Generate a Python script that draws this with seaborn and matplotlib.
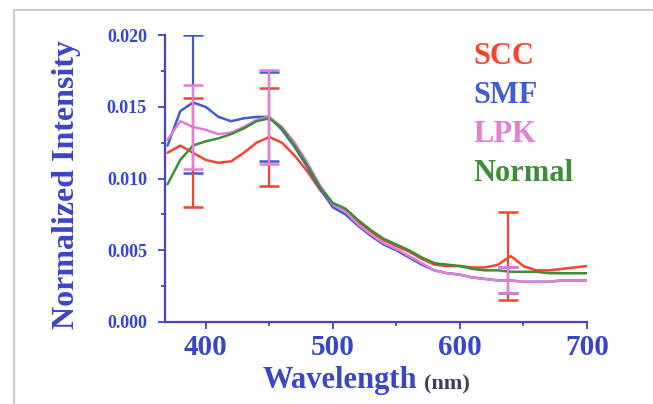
import numpy as np
import pandas as pd
import seaborn as sns
import matplotlib
matplotlib.use("Agg")
import matplotlib.pyplot as plt
from matplotlib.ticker import MultipleLocator, FormatStrFormatter
from matplotlib.lines import Line2D

# wavelength grid (nm)
wavelength = [370, 380, 390, 400, 410, 420, 430, 440, 450, 460, 470, 480, 490,
              500, 510, 520, 530, 540, 550, 560, 570, 580, 590, 600, 610, 620,
              630, 640, 650, 660, 670, 680, 690, 700]

scc = [0.0118, 0.0123, 0.0118, 0.0113, 0.0111, 0.0112, 0.0118, 0.0125, 0.0129,
       0.0125, 0.0116, 0.0105, 0.0092, 0.0082, 0.0078, 0.0070, 0.0063, 0.0057,
       0.0053, 0.0049, 0.0044, 0.0040, 0.0039, 0.0039, 0.0038, 0.0038, 0.0040,
       0.0046, 0.0039, 0.0036, 0.0036, 0.0037, 0.0038, 0.0039]
smf = [0.0123, 0.0147, 0.0153, 0.0150, 0.0143, 0.0140, 0.0142, 0.0143, 0.0143,
       0.0134, 0.0122, 0.0108, 0.0093, 0.0080, 0.0075, 0.0067, 0.0060, 0.0054,
       0.0050, 0.0045, 0.0040, 0.0036, 0.0034, 0.0033, 0.0031, 0.0030, 0.0029,
       0.0029, 0.0028, 0.0028, 0.0028, 0.0029, 0.0029, 0.0029]
lpk = [0.0127, 0.0140, 0.0136, 0.0134, 0.0131, 0.0132, 0.0136, 0.0141, 0.0143,
       0.0136, 0.0125, 0.0111, 0.0095, 0.0082, 0.0077, 0.0068, 0.0061, 0.0055,
       0.0051, 0.0046, 0.0041, 0.0036, 0.0034, 0.0033, 0.0031, 0.0030, 0.0029,
       0.0029, 0.0028, 0.0028, 0.0028, 0.0029, 0.0029, 0.0029]
normal = [0.0096, 0.0113, 0.0123, 0.0126, 0.0128, 0.0131, 0.0135, 0.0140, 0.0142,
          0.0135, 0.0123, 0.0109, 0.0094, 0.0083, 0.0079, 0.0071, 0.0064, 0.0058,
          0.0054, 0.0050, 0.0045, 0.0041, 0.0040, 0.0039, 0.0037, 0.0036, 0.0036,
          0.0035, 0.0035, 0.0035, 0.0034, 0.0034, 0.0034, 0.0034]

samples = ["SCC", "SMF", "LPK", "Normal"]
colors = {"SCC": "#f4432e", "SMF": "#3f5cd0", "LPK": "#e27fd2", "Normal": "#3e8c3a"}

# error bars: wavelength, mean, half-width
err_x = [390, 450, 638]
scc_err_y = [0.0118, 0.0129, 0.0046]
scc_err = [0.0038, 0.0034, 0.0031]
smf_err_y = [0.0152, 0.0143, 0.0029]
smf_err = [0.0048, 0.0031, 0.0009]
lpk_err_y = [0.0136, 0.0143, 0.0029]
lpk_err = [0.0029, 0.0033, 0.0009]

df = pd.concat([
    pd.DataFrame({"Wavelength": wavelength, "Intensity": vals, "Sample": name})
    for name, vals in zip(samples, [scc, smf, lpk, normal])
])

sns.set_style("ticks")
plt.rcParams["font.family"] = ["Liberation Serif", "DejaVu Serif"]
plt.rcParams["font.weight"] = "bold"

fig = plt.figure(figsize=(6.53, 4.04), dpi=100)
ax = fig.add_axes([0.2527, 0.203, 0.6463, 0.710])

sns.lineplot(data=df, x="Wavelength", y="Intensity", hue="Sample",
             hue_order=samples, palette=colors, linewidth=1.8, ax=ax)

for y, e, name in [(smf_err_y, smf_err, "SMF"), (scc_err_y, scc_err, "SCC"),
                   (lpk_err_y, lpk_err, "LPK")]:
    ax.errorbar(err_x, y, yerr=e, fmt="none", ecolor=colors[name],
                elinewidth=1.6, capsize=7, capthick=1.8, zorder=5)

ax.set_xlim(368, 700)
ax.set_ylim(0, 0.020)
ax.xaxis.set_major_locator(MultipleLocator(100))
ax.xaxis.set_minor_locator(MultipleLocator(50))
ax.yaxis.set_major_locator(MultipleLocator(0.005))
ax.yaxis.set_minor_locator(MultipleLocator(0.0025))
ax.yaxis.set_major_formatter(FormatStrFormatter("%.3f"))

axis_col = "#4a3fcf"
for s in ["top", "right"]:
    ax.spines[s].set_visible(False)
for s in ["left", "bottom"]:
    ax.spines[s].set_color(axis_col)
    ax.spines[s].set_linewidth(1.6)
ax.tick_params(which="both", direction="out", color=axis_col, width=1.3)
ax.tick_params(which="major", length=5)
ax.tick_params(which="minor", length=3)
ax.tick_params(axis="x", labelsize=21, labelcolor="#3645cf", pad=4)
ax.tick_params(axis="y", labelsize=13, labelcolor="#3645cf", pad=8)

ax.set_ylabel("Normalized Intensity", fontsize=23, fontweight="bold", color="#3a45c8")
ax.yaxis.set_label_coords(-0.2, 0.48)
ax.set_xlabel("Wavelength", fontsize=22, fontweight="bold", color="#3a45c8")
ax.xaxis.set_label_coords(0.415, -0.155)
ax.annotate("(nm)", xy=(1, 0), xycoords=ax.xaxis.label, xytext=(5, 1),
            textcoords="offset points", fontsize=16, fontweight="bold",
            color="#3b3d5a", ha="left", va="bottom")

leg = ax.legend(loc="upper left", bbox_to_anchor=(0.73, 0.975), frameon=False,
                fontsize=22, handlelength=0, handletextpad=0, labelspacing=0.32,
                borderpad=0, borderaxespad=0)
for text, line in zip(leg.get_texts(), leg.get_lines()):
    text.set_color(line.get_color())
    line.set_visible(False)

# thin grey frame of the original picture
fig.add_artist(Line2D([0.021, 1.0], [0.975, 0.975], color="#cccccc", lw=1.5))
fig.add_artist(Line2D([0.021, 0.021], [0.0, 0.975], color="#cccccc", lw=1.5))

fig.savefig("out.png", dpi=100)
